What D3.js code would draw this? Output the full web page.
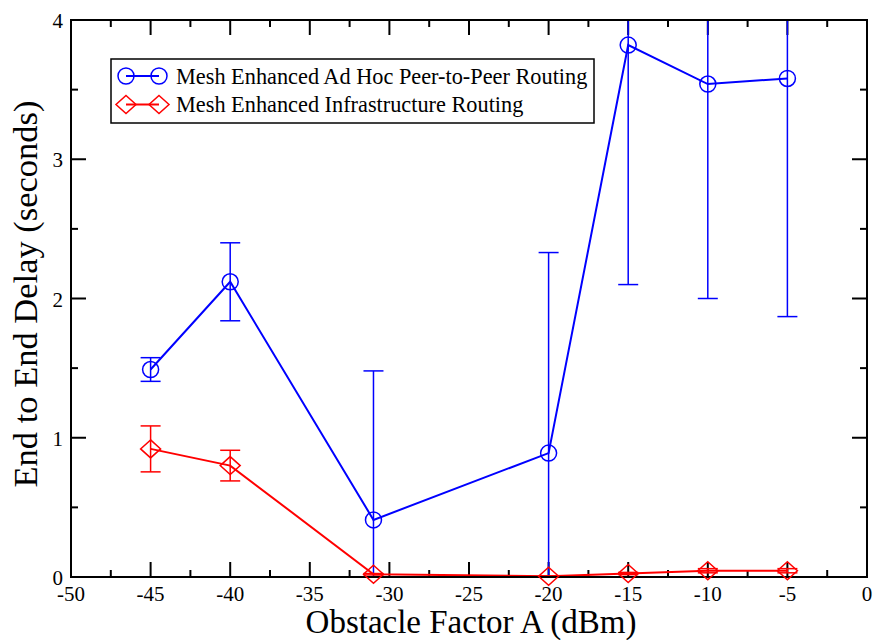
<!DOCTYPE html>
<html>
<head>
<meta charset="utf-8">
<script src="https://cdn.jsdelivr.net/npm/d3@7"></script>
<style>
  body { margin: 0; background: #fff; }
</style>
</head>
<body>
<div id="chart"></div>
<script>
// x positions (dBm)
const obstacle = [-45, -40, -31, -20, -15, -10, -5];

// Mesh Enhanced Ad Hoc Peer-to-Peer Routing
const adhocDelay = [1.49, 2.12, 0.41, 0.89, 3.82, 3.54, 3.58];
const adhocErr   = [0.085, 0.28, 1.07, 1.44, 1.72, 1.54, 1.71];

// Mesh Enhanced Infrastructure Routing
const infraDelay = [0.92, 0.80, 0.02, 0.005, 0.025, 0.045, 0.045];
const infraErr   = [0.165, 0.11, 0.005, 0.003, 0.008, 0.015, 0.015];

const xTicks = [-50, -45, -40, -35, -30, -25, -20, -15, -10, -5, 0];
const yTicks = [0, 1, 2, 3, 4];

const seriesNames = ["Mesh Enhanced Ad Hoc Peer-to-Peer Routing", "Mesh Enhanced Infrastructure Routing"];

const FONT = "'Liberation Serif'";

const W = 877, H = 640;
const margin = { top: 20, right: 10, bottom: 63, left: 71 };
const width = W - margin.left - margin.right;
const height = H - margin.top - margin.bottom;

const svg = d3.select("#chart").append("svg")
    .attr("width", W).attr("height", H);

const g = svg.append("g")
    .attr("transform", "translate(" + margin.left + "," + margin.top + ")");

const x = d3.scaleLinear().domain([-50, 0]).range([0, width]);
const y = d3.scaleLinear().domain([0, 4]).range([height, 0]);

svg.append("defs").append("clipPath").attr("id", "clip")
    .append("rect").attr("width", width).attr("height", height);

// ticks (inward, on all four sides)
const xMinor = d3.range(-47.5, 0, 5);
const yMinor = d3.range(0.5, 4, 1);
const major = 15, minor = 7;

function tickSet(sel, vals, len, horizontal) {
    vals.forEach(v => {
        if (horizontal) {
            sel.append("line").attr("x1", x(v)).attr("x2", x(v)).attr("y1", height).attr("y2", height - len);
            sel.append("line").attr("x1", x(v)).attr("x2", x(v)).attr("y1", 0).attr("y2", len);
        } else {
            sel.append("line").attr("y1", y(v)).attr("y2", y(v)).attr("x1", 0).attr("x2", len);
            sel.append("line").attr("y1", y(v)).attr("y2", y(v)).attr("x1", width).attr("x2", width - len);
        }
    });
}
const ticks = g.append("g").attr("stroke", "#000").attr("stroke-width", 2);
tickSet(ticks, xTicks, major, true);
tickSet(ticks, xMinor, minor, true);
tickSet(ticks, yTicks, major, false);
tickSet(ticks, yMinor, minor, false);

function txt(sel) {
    return sel.append("text").style("font-family", FONT).attr("fill", "#000");
}

// tick labels
xTicks.forEach(d => {
    txt(g).attr("x", x(d)).attr("y", height + 24)
        .attr("text-anchor", "middle").style("font-size", "21px")
        .text(d);
});
yTicks.forEach(d => {
    txt(g).attr("x", -8).attr("y", y(d) + 8)
        .attr("text-anchor", "end").style("font-size", "21px")
        .text(d);
});

// axis titles
txt(svg)
    .attr("x", 471).attr("y", 633)
    .attr("text-anchor", "middle").style("font-size", "33px")
    .text("Obstacle Factor A (dBm)");

txt(svg)
    .attr("transform", "translate(37,294) rotate(-90)")
    .attr("text-anchor", "middle").style("font-size", "34.5px")
    .text("End to End Delay (seconds)");

// data
const series = [
    { vals: adhocDelay, err: adhocErr, color: "#0000ff", shape: "circle" },
    { vals: infraDelay, err: infraErr, color: "#ff0000", shape: "diamond" }
];

const plot = g.append("g").attr("clip-path", "url(#clip)");
const marks = g.append("g");
const line = d3.line().x(d => x(d.x)).y(d => y(d.y));

function marker(sel, shape, color) {
    if (shape === "circle") {
        sel.append("circle").attr("r", 8).attr("fill", "none")
            .attr("stroke", color).attr("stroke-width", 1.5);
    } else {
        sel.append("path").attr("d", "M0,-9L10,0L0,9L-10,0Z").attr("fill", "none")
            .attr("stroke", color).attr("stroke-width", 1.5);
    }
}

series.forEach(s => {
    const pts = obstacle.map((o, i) => ({ x: o, y: s.vals[i], e: s.err[i] }));

    const eb = plot.append("g").attr("stroke", s.color).attr("stroke-width", 1.5);
    pts.forEach(p => {
        eb.append("line").attr("x1", x(p.x)).attr("x2", x(p.x))
            .attr("y1", y(p.y - p.e)).attr("y2", y(p.y + p.e));
        [p.y - p.e, p.y + p.e].forEach(v => {
            eb.append("line").attr("x1", x(p.x) - 10).attr("x2", x(p.x) + 10)
                .attr("y1", y(v)).attr("y2", y(v));
        });
    });

    plot.append("path").datum(pts).attr("d", line)
        .attr("fill", "none").attr("stroke", s.color).attr("stroke-width", 2);

    pts.forEach(p => {
        const m = marks.append("g").attr("transform", "translate(" + x(p.x) + "," + y(p.y) + ")");
        marker(m, s.shape, s.color);
    });
});

// frame
g.insert("rect", () => marks.node()).attr("width", width).attr("height", height)
    .attr("fill", "none").attr("stroke", "#000").attr("stroke-width", 2);

// legend
const leg = svg.append("g").attr("transform", "translate(111,59)");
leg.append("rect").attr("width", 483).attr("height", 64)
    .attr("fill", "#fff").attr("stroke", "#000").attr("stroke-width", 1.5);
series.forEach((s, i) => {
    const row = leg.append("g").attr("transform", "translate(0," + (17 + i * 28.5) + ")");
    row.append("line").attr("x1", 15).attr("x2", 48).attr("stroke", s.color).attr("stroke-width", 2);
    [15, 48].forEach(cx => {
        const m = row.append("g").attr("transform", "translate(" + cx + ",0)");
        marker(m, s.shape, s.color);
    });
    txt(row).attr("x", 65).attr("y", 7.5).style("font-size", "22.3px").text(seriesNames[i]);
});
</script>
</body>
</html>
